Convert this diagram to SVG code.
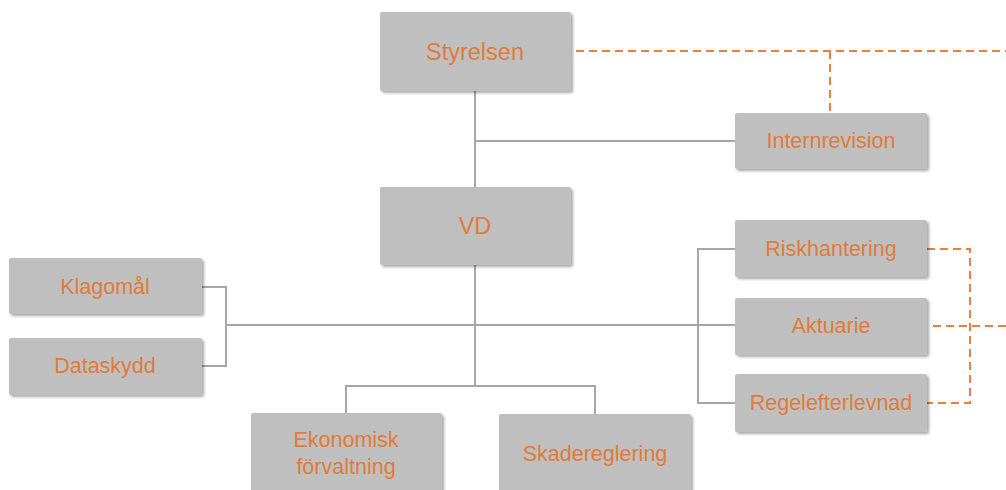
<svg xmlns="http://www.w3.org/2000/svg" width="1006" height="490" viewBox="0 0 1006 490">
<defs>
<filter id="sh" x="-10%" y="-10%" width="125%" height="130%">
<feGaussianBlur in="SourceAlpha" stdDeviation="1.5"/>
<feOffset dx="2" dy="2" result="b"/>
<feComponentTransfer><feFuncA type="linear" slope="0.35"/></feComponentTransfer>
<feMerge><feMergeNode/><feMergeNode in="SourceGraphic"/></feMerge>
</filter>
</defs>
<style>
.box{fill:#bfbfbf;filter:url(#sh)}
.t{fill:#e07b39;font-family:"Liberation Sans",Arial,sans-serif;font-size:21.5px;text-anchor:middle;dominant-baseline:central}
.big{font-size:23.5px}
.g{stroke:#a6a6a6;stroke-width:2;fill:none}
.o{stroke:#e8813d;stroke-width:2;fill:none;stroke-dasharray:8,5}
</style>
<rect width="1006" height="490" fill="#ffffff"/>
<g id="connectors">
<path class="g" d="M475 91V187M475 141H735M475 265V386M346 413V386H595V414M226 325H735M202 287H226V366H202M735 249H698V403H735"/>
<path class="o" d="M576 51H1006M830 51V113M927 249H970V403H927M933 326H1006"/>
</g>
<g id="styrelsen"><rect class="box" x="380" y="12" width="191" height="79" rx="2"/><text class="t big" x="475" y="52">Styrelsen</text></g>
<g id="internrevision"><rect class="box" x="735" y="113" width="192" height="56" rx="2"/><text class="t" x="831" y="141">Internrevision</text></g>
<g id="vd"><rect class="box" x="380" y="187" width="191" height="78" rx="2"/><text class="t big" x="475" y="226">VD</text></g>
<g id="klagomal"><rect class="box" x="9" y="258" width="193" height="56" rx="2"/><text class="t" x="105" y="287">Klagomål</text></g>
<g id="dataskydd"><rect class="box" x="9" y="338" width="193" height="57" rx="2"/><text class="t" x="105" y="366">Dataskydd</text></g>
<g id="riskhantering"><rect class="box" x="735" y="220" width="192" height="57" rx="2"/><text class="t" x="831" y="249">Riskhantering</text></g>
<g id="aktuarie"><rect class="box" x="735" y="298" width="192" height="57" rx="2"/><text class="t" x="831" y="326">Aktuarie</text></g>
<g id="regelefterlevnad"><rect class="box" x="735" y="374" width="192" height="58" rx="2"/><text class="t" x="831" y="403">Regelefterlevnad</text></g>
<g id="ekonomisk"><rect class="box" x="251" y="413" width="191" height="90" rx="2"/><text class="t" x="346" y="440">Ekonomisk</text><text class="t" x="346" y="467">förvaltning</text></g>
<g id="skadereglering"><rect class="box" x="499" y="414" width="192" height="90" rx="2"/><text class="t" x="595" y="454">Skadereglering</text></g>
</svg>
